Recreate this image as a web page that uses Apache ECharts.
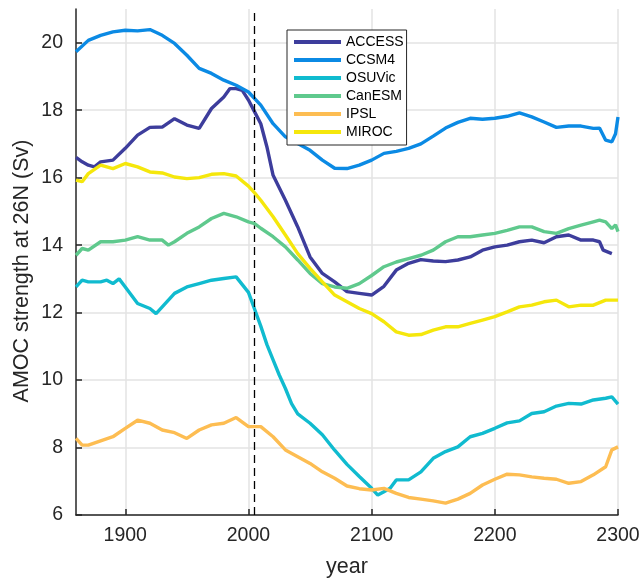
<!DOCTYPE html>
<html>
<head>
<meta charset="utf-8">
<script src="https://cdn.jsdelivr.net/npm/echarts@6/dist/echarts.min.js"></script>
<style>html,body{margin:0;padding:0;background:#fff;}#c{width:639px;height:581px;}</style>
</head>
<body>
<div id="c"></div>
<script>
const xTicks = [1900, 2000, 2100, 2200, 2300];
const yTicks = [6, 8, 10, 12, 14, 16, 18, 20];
const dashedYear = 2005;

const accessYears = [1860,1865,1870,1875,1880,1890,1900,1910,1920,1930,1940,1950,1960,1970,1980,1985,1990,1995,2000,2005,2010,2015,2020,2030,2040,2050,2060,2070,2080,2090,2100,2110,2120,2130,2140,2150,2160,2170,2180,2190,2200,2210,2220,2230,2240,2250,2260,2270,2280,2285,2288,2295];
const accessValues = [16.6,16.47,16.37,16.32,16.47,16.52,16.87,17.26,17.49,17.5,17.75,17.56,17.46,18.05,18.39,18.64,18.64,18.59,18.3,17.95,17.6,16.91,16.07,15.33,14.54,13.65,13.16,12.91,12.62,12.57,12.52,12.78,13.26,13.46,13.57,13.53,13.51,13.56,13.65,13.85,13.95,14.0,14.1,14.15,14.07,14.25,14.3,14.15,14.15,14.1,13.85,13.75];

const ccsmYears = [1860,1870,1880,1890,1900,1910,1920,1930,1940,1950,1960,1970,1980,1990,2000,2010,2020,2030,2040,2050,2060,2070,2080,2090,2100,2110,2120,2130,2140,2150,2160,2170,2180,2190,2200,2210,2220,2230,2240,2250,2260,2270,2280,2285,2290,2295,2298,2300];
const ccsmValues = [19.73,20.07,20.22,20.32,20.37,20.35,20.39,20.22,19.98,19.63,19.24,19.09,18.89,18.74,18.54,18.15,17.6,17.21,17.01,16.81,16.52,16.28,16.27,16.37,16.52,16.72,16.78,16.87,17.0,17.23,17.47,17.64,17.76,17.73,17.76,17.82,17.92,17.8,17.65,17.49,17.53,17.53,17.46,17.47,17.11,17.06,17.3,17.8];

const osuYears = [1860,1865,1870,1880,1885,1890,1895,1900,1910,1920,1925,1930,1940,1950,1960,1970,1980,1990,2000,2005,2010,2015,2020,2025,2030,2035,2040,2050,2060,2070,2080,2090,2100,2105,2110,2115,2120,2130,2140,2150,2160,2170,2180,2190,2200,2210,2220,2230,2240,2250,2260,2270,2280,2290,2295,2300];
const osuValues = [12.76,12.96,12.91,12.91,12.96,12.86,13.0,12.76,12.27,12.12,11.97,12.17,12.57,12.76,12.86,12.96,13.01,13.06,12.6,12.1,11.6,11.05,10.6,10.15,9.75,9.3,9.0,8.72,8.38,7.92,7.5,7.14,6.79,6.59,6.69,6.79,7.04,7.04,7.28,7.68,7.88,8.02,8.32,8.42,8.57,8.73,8.79,9.01,9.06,9.23,9.31,9.29,9.41,9.46,9.5,9.29];

const canYears = [1860,1865,1870,1880,1890,1900,1910,1920,1930,1935,1940,1950,1960,1970,1980,1990,2000,2005,2010,2020,2030,2040,2050,2060,2070,2080,2090,2100,2110,2120,2130,2140,2150,2160,2170,2180,2190,2200,2210,2220,2230,2240,2250,2260,2270,2280,2285,2290,2295,2298,2300];
const canValues = [13.7,13.9,13.85,14.1,14.1,14.15,14.25,14.15,14.15,14.0,14.1,14.35,14.54,14.79,14.94,14.84,14.69,14.64,14.5,14.25,13.95,13.56,13.16,12.86,12.76,12.72,12.86,13.1,13.36,13.5,13.6,13.7,13.85,14.1,14.25,14.25,14.3,14.35,14.44,14.54,14.54,14.4,14.35,14.49,14.59,14.69,14.74,14.69,14.49,14.6,14.4];

const ipslYears = [1860,1865,1870,1880,1890,1900,1910,1920,1930,1940,1950,1960,1970,1980,1990,2000,2010,2020,2030,2040,2050,2060,2070,2080,2090,2100,2110,2120,2130,2140,2150,2160,2170,2180,2190,2200,2210,2220,2230,2240,2250,2260,2270,2280,2290,2295,2300];
const ipslValues = [8.27,8.07,8.07,8.2,8.32,8.57,8.81,8.72,8.52,8.44,8.27,8.52,8.67,8.72,8.89,8.62,8.62,8.32,7.93,7.73,7.53,7.28,7.09,6.86,6.78,6.74,6.79,6.64,6.52,6.47,6.42,6.35,6.47,6.64,6.89,7.06,7.21,7.19,7.13,7.09,7.06,6.94,6.99,7.19,7.43,7.93,8.02];

const mirocYears = [1860,1865,1870,1880,1890,1900,1910,1920,1930,1940,1950,1960,1970,1980,1990,2000,2005,2010,2020,2030,2040,2050,2060,2070,2080,2090,2100,2110,2120,2130,2140,2150,2160,2170,2180,2190,2200,2210,2220,2230,2240,2250,2260,2270,2280,2290,2300];
const mirocValues = [15.93,15.88,16.12,16.37,16.27,16.42,16.32,16.17,16.14,16.02,15.97,16.0,16.1,16.12,16.05,15.75,15.55,15.33,14.84,14.3,13.75,13.31,12.91,12.52,12.32,12.12,11.97,11.73,11.43,11.33,11.35,11.48,11.58,11.58,11.68,11.78,11.88,12.02,12.17,12.22,12.32,12.37,12.17,12.22,12.22,12.37,12.37];

const seriesDefs = [
  {name: 'ACCESS', years: accessYears, values: accessValues, color: '#3d3d9c'},
  {name: 'CCSM4',  years: ccsmYears,   values: ccsmValues,   color: '#0b8ae4'},
  {name: 'OSUVic', years: osuYears,    values: osuValues,    color: '#10bbcf'},
  {name: 'CanESM', years: canYears,    values: canValues,    color: '#5fc98d'},
  {name: 'IPSL',   years: ipslYears,   values: ipslValues,   color: '#fdbd52'},
  {name: 'MIROC',  years: mirocYears,  values: mirocValues,  color: '#f5e70c'}
];

const font = 'Liberation Sans, Arial, Helvetica, sans-serif';
const ink = '#262626';

const series = seriesDefs.map((d, i) => ({
  name: d.name,
  type: 'line',
  data: d.years.map((y, k) => [y, d.values[k]]),
  showSymbol: false,
  symbol: 'none',
  smooth: false,
  lineStyle: {width: 3.4, color: d.color},
  itemStyle: {color: d.color},
  z: 2 + i,
  animation: false
}));
series[0].markLine = {
  silent: true,
  symbol: ['none', 'none'],
  label: {show: false},
  lineStyle: {type: [8, 5], color: '#000', width: 1.3},
  data: [{xAxis: dashedYear}],
  animation: false
};

const chart = echarts.init(document.getElementById('c'), null, {renderer: 'canvas'});
chart.setOption({
  animation: false,
  backgroundColor: '#fff',
  grid: {left: 76, right: 21, top: 9, bottom: 66, containLabel: false, outerBoundsMode: 'none'},
  legend: {
    orient: 'vertical',
    left: 287, top: 30,
    padding: [4, 3, 5, 7],
    itemGap: 2,
    itemWidth: 47, itemHeight: 4,
    icon: 'rect',
    backgroundColor: '#fff',
    borderColor: ink, borderWidth: 1,
    textStyle: {fontFamily: font, fontSize: 14, color: '#000', lineHeight: 16},
    data: seriesDefs.map(d => d.name)
  },
  xAxis: {
    type: 'value', min: 1860, max: 2300,
    name: 'year', nameLocation: 'middle', nameGap: 41, nameMoveOverlap: false,
    nameTextStyle: {fontFamily: font, fontSize: 21.5, color: ink},
    axisLine: {show: true, onZero: false, lineStyle: {color: ink, width: 1.5}},
    axisTick: {show: true, inside: true, length: 6, customValues: xTicks, lineStyle: {color: ink, width: 1.5}},
    axisLabel: {customValues: xTicks, formatter: v => String(v), fontFamily: font, fontSize: 19.5, color: ink, margin: 11},
    splitLine: {show: true, lineStyle: {color: '#e3e3e3', width: 1.5}}
  },
  yAxis: {
    type: 'value', min: 6, max: 21,
    name: 'AMOC strength at 26N (Sv)', nameLocation: 'middle', nameGap: 43, nameRotate: 90, nameMoveOverlap: false,
    nameTextStyle: {fontFamily: font, fontSize: 21.5, color: ink, padding: [0, 18, 0, 0]},
    axisLine: {show: true, onZero: false, lineStyle: {color: ink, width: 1.5}},
    axisTick: {show: true, inside: true, length: 6, customValues: yTicks, lineStyle: {color: ink, width: 1.5}},
    axisLabel: {customValues: yTicks, formatter: v => String(v), fontFamily: font, fontSize: 19.5, color: ink, margin: 13},
    splitLine: {show: true, lineStyle: {color: '#e3e3e3', width: 1.5}}
  },
  series: series
});
</script>
</body>
</html>
